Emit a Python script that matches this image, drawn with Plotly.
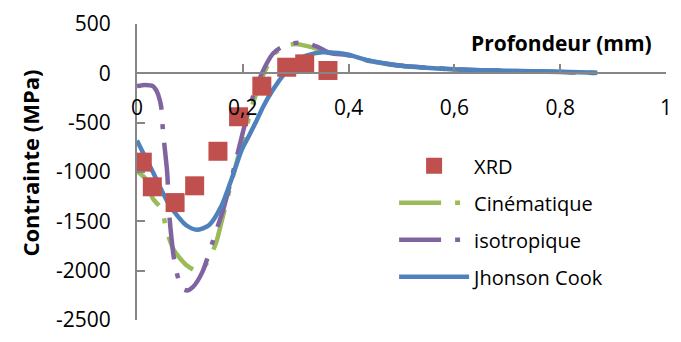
import plotly.graph_objects as go

# Measured residual stress (XRD)
depth_xrd = [0.01, 0.029, 0.072, 0.109, 0.153, 0.192, 0.236, 0.283, 0.317, 0.361]
stress_xrd = [-900, -1150, -1310, -1140, -790, -440, -130, 62, 96, 29]

# Simulated profile, kinematic hardening
depth_cin = [0, 0.018, 0.03, 0.046, 0.056, 0.07, 0.095, 0.117, 0.13, 0.149, 0.16,
             0.175, 0.19, 0.205, 0.22, 0.24, 0.26, 0.285, 0.30, 0.33, 0.36,
             0.4, 0.44, 0.5, 0.6, 0.7, 0.8, 0.87]
stress_cin = [-990, -1080, -1270, -1370, -1590, -1795, -1950, -2010, -1940, -1725, -1500,
              -1180, -870, -580, -290, 0, 200, 285, 298, 265, 212,
              184, 125, 76, 40, 24, 14, 3]

# Simulated profile, isotropic hardening
depth_iso = [0, 0.015, 0.03, 0.038, 0.043, 0.046, 0.049, 0.057, 0.061, 0.065, 0.07,
             0.084, 0.095, 0.105, 0.123, 0.149, 0.164, 0.183, 0.2, 0.215, 0.236,
             0.257, 0.27, 0.29, 0.315, 0.34, 0.365, 0.4, 0.44, 0.5, 0.6, 0.7, 0.8, 0.87]
stress_iso = [-130, -118, -130, -190, -270, -350, -580, -1000, -1430, -1660, -1880,
              -2175, -2200, -2170, -2020, -1608, -1363, -970, -600, -304, 0,
              200, 255, 300, 312, 272, 205, 184, 125, 76, 40, 24, 14, 3]

# Simulated profile, Johnson-Cook law
depth_jc = [0, 0.01, 0.03, 0.061, 0.093, 0.113, 0.136, 0.16, 0.179, 0.198, 0.211,
            0.226, 0.239, 0.257, 0.279, 0.30, 0.32, 0.35, 0.38, 0.40, 0.44,
            0.5, 0.6, 0.7, 0.8, 0.87]
stress_jc = [-680, -790, -1000, -1333, -1540, -1585, -1540, -1340, -1068, -775, -640,
             -480, -333, -167, 0, 127, 180, 214, 205, 188, 127,
             78, 42, 26, 16, 5]

x_range = [0, 1]
y_range = [-2500, 500]
x_tick_vals = [0, 0.2, 0.4, 0.6, 0.8, 1]
x_tick_text = ["0", "0,2", "0,4", "0,6", "0,8", "1"]
y_tick_vals = [500, 0, -500, -1000, -1500, -2000, -2500]
y_tick_text = ["500", "0", "-500", "-1000", "-1500", "-2000", "-2500"]

AXIS_GREY = "#868686"
DASH_DOT = "42px,14px,5px,14px"

fig = go.Figure()

fig.add_trace(go.Scatter(
    x=depth_cin, y=stress_cin, mode="lines", name="Cinématique",
    line=dict(color="#9BBB59", width=4.5, dash=DASH_DOT, shape="spline", smoothing=0.7),
    legendrank=2, legendgroup="cin",
))
fig.add_trace(go.Scatter(
    x=depth_iso, y=stress_iso, mode="lines", name="isotropique",
    line=dict(color="#8064A2", width=4.5, dash=DASH_DOT, shape="spline", smoothing=0.7),
    legendrank=3, legendgroup="iso",
))
fig.add_trace(go.Scatter(
    x=depth_jc, y=stress_jc, mode="lines", name="Jhonson Cook",
    line=dict(color="#4F81BD", width=4.5, shape="spline", smoothing=0.7),
    legendrank=4, legendgroup="jc",
))
fig.add_trace(go.Scatter(
    x=depth_xrd, y=stress_xrd, mode="markers", name="XRD",
    marker=dict(symbol="square", size=19, color="#C0504D"),
    legendrank=1, legendgroup="xrd",
))

# horizontal axis crosses the vertical one at zero stress
zero_frac = (0 - y_range[0]) / (y_range[1] - y_range[0])

fig.update_layout(
    width=681, height=342,
    margin=dict(l=137, r=9, t=19, b=16),
    paper_bgcolor="white", plot_bgcolor="white",
    font=dict(family="Open Sans", size=21, color="black"),
    showlegend=True,
    legend=dict(
        x=0.486, y=0.587, xanchor="left", yanchor="top",
        font=dict(size=20), itemwidth=70,
        traceorder="grouped", tracegroupgap=8,
        bgcolor="rgba(0,0,0,0)",
    ),
    annotations=[
        dict(text="<b>Contrainte (MPa)</b>", xref="paper", yref="paper",
             x=-0.202, y=0.529, textangle=-90, showarrow=False,
             font=dict(size=22), xanchor="center", yanchor="middle"),
        dict(text="<b>Profondeur (mm)</b>", xref="paper", yref="paper",
             x=0.628, y=0.935, showarrow=False,
             font=dict(size=21), xanchor="left", yanchor="middle"),
    ],
)

fig.update_xaxes(
    range=x_range, tickvals=x_tick_vals, ticktext=x_tick_text,
    ticks="inside", ticklen=8, tickwidth=2, tickcolor=AXIS_GREY,
    showline=True, linecolor=AXIS_GREY, linewidth=2,
    showgrid=False, zeroline=False,
    anchor="free", position=zero_frac, ticklabelstandoff=15,
)
fig.update_yaxes(
    range=y_range, tickvals=y_tick_vals, ticktext=y_tick_text,
    ticks="inside", ticklen=8, tickwidth=2, tickcolor=AXIS_GREY,
    showline=True, linecolor=AXIS_GREY, linewidth=2,
    showgrid=False, zeroline=False, ticklabelstandoff=20,
)

fig.write_html("out.html")
